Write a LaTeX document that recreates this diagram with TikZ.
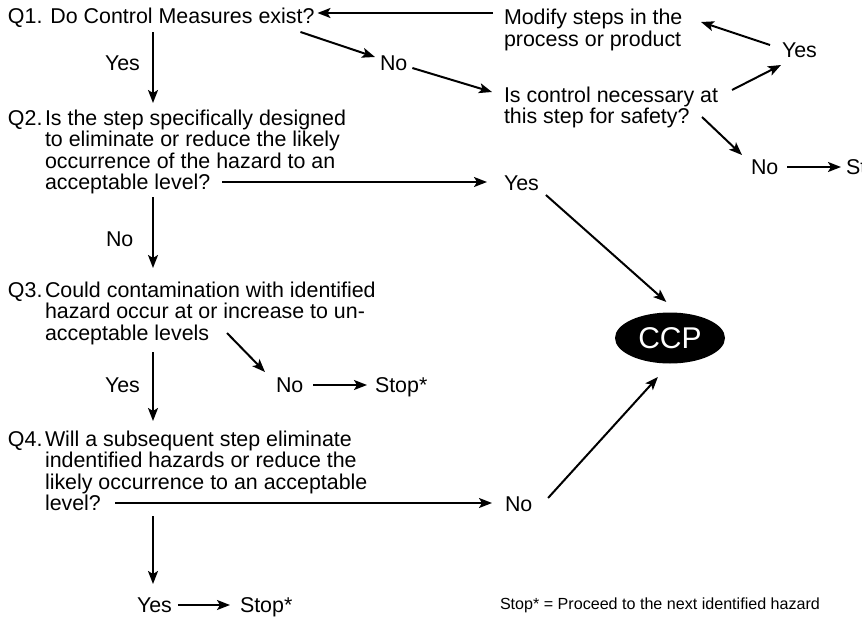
\documentclass[tikz,border=0pt]{standalone}
\usepackage{fontspec}
\setmainfont{Liberation Sans}
\usetikzlibrary{arrows.meta,shapes.geometric}
\begin{document}
\begin{tikzpicture}[x=1pt,y=-1pt,
 txt/.style={anchor=base west, inner sep=0pt, outer sep=0pt, text=black, font=\fontsize{21.4}{21.5}\selectfont},
 note/.style={anchor=base west, inner sep=0pt, outer sep=0pt, text=black, font=\fontsize{16.1}{18}\selectfont},
 arr/.style={line width=2pt, draw=black, -{Stealth[length=13pt,width=10pt,inset=3pt]}},
]
\useasboundingbox (0,0) rectangle (862,616);
\clip (0,0) rectangle (862,616);

% questions
\node[txt] (q1) at (8,23) {Q1. Do Control Measures exist?};
\node[txt] (q2) at (8,125) {\makebox[37pt][l]{Q2.}\parbox[t]{400pt}{\raggedright Is the step specifically designed\\to eliminate or reduce the likely\\occurrence of the hazard to an\\acceptable level?}};
\node[txt] (q3) at (8,297) {\makebox[37pt][l]{Q3.}\parbox[t]{400pt}{\raggedright Could contamination with identified\\hazard occur at or increase to un-\\acceptable levels}};
\node[txt] (q4) at (8,446) {\makebox[37pt][l]{Q4.}\parbox[t]{400pt}{\raggedright Will a subsequent step eliminate\\indentified hazards or reduce the\\likely occurrence to an acceptable\\level?}};

% right column
\node[txt] (mod) at (504,24.5) {\parbox[t]{300pt}{\raggedright Modify steps in the\\process or product}};
\node[txt] (isctl) at (504,102) {\parbox[t]{300pt}{\raggedright Is control necessary at\\this step for safety?}};

% labels
\node[txt] (yesA) at (105,70.5) {Yes};
\node[txt] (noA) at (106,246) {No};
\node[txt] (yesB) at (105,392) {Yes};
\node[txt] (no1) at (380,70.5) {No};
\node[txt] (yes1) at (782,57.5) {Yes};
\node[txt] (no2) at (751,174.5) {No};
\node[txt] (stop2) at (846,174.5) {Stop*};
\node[txt] (yes2) at (504,190) {Yes};
\node[txt] (no4) at (276,392) {No};
\node[txt] (stop3) at (375,392) {Stop*};
\node[txt] (no5) at (505,511) {No};
\node[txt] (yesC) at (137,612) {Yes};
\node[txt] (stop4) at (240,612) {Stop*};
\node[note] (foot) at (500,609) {Stop* = Proceed to the next identified hazard};

% CCP
\node[ellipse, fill=black, minimum width=110pt, minimum height=51pt, inner sep=0pt, text=white,
      font=\fontsize{30}{30}\selectfont] (ccp) at (670,338) {CCP};

% connectors
\draw[arr] ([shift={(-11,-11.5)}]mod.base west) -- ([shift={(3,-10)}]q1.base east);
\draw[arr] ([shift={(-14,9)}]q1.base east) -- ([shift={(-5,-13.5)}]no1.base west);
\draw[arr] ([shift={(5,-2.5)}]no1.base east) -- ([shift={(-12,-10)}]isctl.base west);
\draw[arr] ([shift={(228,-12)}]isctl.base west) -- ([shift={(-1,7.5)}]yes1.base west);
\draw[arr] ([shift={(-12,-12.5)}]yes1.base west) -- ([shift={(197,-2.5)}]mod.base west);
\draw[arr] ([shift={(198,15)}]isctl.base west) -- ([shift={(-9,-19.5)}]no2.base west);
\draw[arr] ([shift={(8.7,-7.5)}]no2.base east) -- ([shift={(-5,-7.5)}]stop2.base west);

\draw[arr] ([shift={(145,9)}]q1.base west) -- ([shift={(145,-22)}]q2.base west);
\draw[arr] ([shift={(214,57)}]q2.base west) -- ([shift={(-17,-8)}]yes2.base west);
\draw[arr, shorten >=15.6pt] ([shift={(7,5)}]yes2.base east) -- ([shift={(8,0)}]ccp.north);
\draw[arr] ([shift={(145,72)}]q2.base west) -- ([shift={(145,-29)}]q3.base west);
\draw[arr] ([shift={(219,36)}]q3.base west) -- ([shift={(-11,-20)}]no4.base west);
\draw[arr] ([shift={(9.7,-7)}]no4.base east) -- ([shift={(-8,-7)}]stop3.base west);
\draw[arr] ([shift={(145,55)}]q3.base west) -- ([shift={(145,-25)}]q4.base west);
\draw[arr] ([shift={(107,57)}]q4.base west) -- ([shift={(-13,-8)}]no5.base west);
\draw[arr, shorten >=18pt] ([shift={(15.7,-13)}]no5.base east) -- (ccp.south);
\draw[arr] ([shift={(145,70)}]q4.base west) -- ([shift={(16,-28)}]yesC.base west);
\draw[arr] ([shift={(6,-7)}]yesC.base east) -- ([shift={(-10,-7)}]stop4.base west);
\end{tikzpicture}
\end{document}
